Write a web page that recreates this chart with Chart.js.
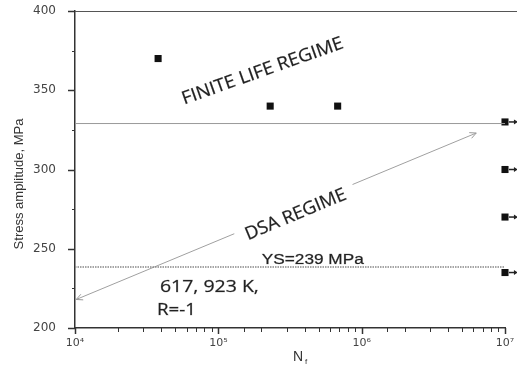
<!DOCTYPE html>
<html>
<head>
<meta charset="utf-8">
<script src="https://cdn.jsdelivr.net/npm/chart.js@4.4.0/dist/chart.umd.min.js"></script>
<style>
  html, body { margin: 0; padding: 0; background: #fff; }
  #wrap { width: 517px; height: 383px; }
</style>
</head>
<body>
<div id="wrap"><canvas id="fatigueChart"></canvas></div>
<script>
// data
const cycles = [3.8e4, 2.3e5, 6.8e5, 1e7, 1e7, 1e7, 1e7];
const stress = [370, 340, 340, 330, 300, 270, 235];
const runoutCycles = [1.1e7, 1.1e7, 1.1e7, 1.1e7];
const runoutStress = [330, 300, 270, 235];
const fatigueLimit = 329;
const yieldStrength = 238.5;
const arrowCycles = [1.02e4, 6.3e6];
const arrowStress = [218, 323];
const xRange = [1e4, 1e7];
const xTickValues = [1e4, 1e5, 1e6, 1e7];
const xTickLabels = ['10⁴', '10⁵', '10⁶', '10⁷'];
const yRange = [200, 400];
const yStep = 25;

// text notes, anchored in data coordinates
const notes = [
    { text: 'FINITE LIFE REGIME', x: 2.04e5, y: 362, angle: -19.5, width: 170, size: 18, align: 'center', bg: false },
    { text: 'DSA REGIME', x: 3.47e5, y: 271.5, angle: -22.6, width: 108, size: 18, align: 'center', bg: true },
    { text: 'YS=239 MPa', x: 2.01e5, y: 243, angle: 0, width: 102, size: 14, align: 'left', bg: false, font: 'Liberation Sans' },
    { text: '617, 923 K,', x: 3.91e4, y: 226, angle: 0, width: 99, size: 17, align: 'left', bg: false },
    { text: 'R=-1', x: 3.73e4, y: 211.5, angle: 0, width: 39, size: 17, align: 'left', bg: false }
];

function drawFitted(ctx, n, px, py) {
    ctx.save();
    ctx.translate(px, py);
    ctx.rotate(n.angle * Math.PI / 180);
    ctx.font = n.size + 'px "' + (n.font || 'Open Sans') + '"';
    const w = ctx.measureText(n.text).width;
    const sx = n.width / w;
    const left = n.align === 'center' ? -n.width / 2 : 0;
    if (n.bg) {
        ctx.fillStyle = '#fff';
        ctx.fillRect(left - 10, -n.size * 0.7, n.width + 20, n.size * 1.25);
    }
    ctx.scale(sx, 1);
    ctx.fillStyle = '#222';
    ctx.strokeStyle = 'rgba(34,34,34,0.45)';
    ctx.lineWidth = 0.5;
    ctx.textBaseline = 'middle';
    ctx.textAlign = 'left';
    ctx.fillText(n.text, left / sx, 0);
    ctx.strokeText(n.text, left / sx, 0);
    ctx.restore();
}

const extras = {
    id: 'extras',
    afterDatasetsDraw(chart) {
        const ctx = chart.ctx;
        const xs = chart.scales.x, ys = chart.scales.y;
        const area = chart.chartArea;

        // top frame line
        ctx.save();
        ctx.strokeStyle = '#555';
        ctx.lineWidth = 1;
        ctx.beginPath();
        ctx.moveTo(area.left, area.top + 0.5);
        ctx.lineTo(chart.width, area.top + 0.5);
        ctx.stroke();

        // tick marks
        ctx.strokeStyle = '#333';
        xs.ticks.forEach(t => {
            const e = Math.log10(t.value);
            const major = Math.abs(e - Math.round(e)) < 1e-9;
            const px = Math.round(xs.getPixelForValue(t.value)) + 0.5;
            ctx.lineWidth = major ? 1.5 : 1;
            ctx.beginPath();
            ctx.moveTo(px, area.bottom);
            ctx.lineTo(px, area.bottom + (major ? 6 : 4));
            ctx.stroke();
        });
        ys.ticks.forEach(t => {
            const major = t.value % 50 === 0;
            const py = Math.round(ys.getPixelForValue(t.value)) + 0.5;
            ctx.lineWidth = major ? 1.5 : 1;
            ctx.beginPath();
            ctx.moveTo(area.left, py);
            ctx.lineTo(area.left - (major ? 7 : 3), py);
            ctx.stroke();
        });

        // x tick labels
        ctx.fillStyle = '#444';
        ctx.font = '11px "DejaVu Sans"';
        ctx.textAlign = 'center';
        ctx.textBaseline = 'middle';
        xTickValues.forEach((v, i) => {
            ctx.fillText(xTickLabels[i], xs.getPixelForValue(v), area.bottom + 15);
        });

        // run-out arrows beyond 10^7
        ctx.strokeStyle = '#222';
        ctx.fillStyle = '#222';
        ctx.lineWidth = 1.5;
        runoutCycles.forEach((c, i) => {
            const px = xs.getPixelForValue(c);
            const py = ys.getPixelForValue(runoutStress[i]);
            ctx.beginPath();
            ctx.moveTo(px - 2, py);
            ctx.lineTo(px + 4, py);
            ctx.stroke();
            ctx.beginPath();
            ctx.moveTo(px + 7, py);
            ctx.lineTo(px + 3, py - 2.5);
            ctx.lineTo(px + 3, py + 2.5);
            ctx.closePath();
            ctx.fill();
        });

        // arrowheads on the DSA arrow
        const p0 = { x: xs.getPixelForValue(arrowCycles[0]), y: ys.getPixelForValue(arrowStress[0]) };
        const p1 = { x: xs.getPixelForValue(arrowCycles[1]), y: ys.getPixelForValue(arrowStress[1]) };
        const ang = Math.atan2(p1.y - p0.y, p1.x - p0.x);
        ctx.strokeStyle = '#999';
        ctx.lineWidth = 1;
        [[p1, ang], [p0, ang + Math.PI]].forEach(([p, a]) => {
            ctx.beginPath();
            ctx.moveTo(p.x - 7 * Math.cos(a - 0.45), p.y - 7 * Math.sin(a - 0.45));
            ctx.lineTo(p.x, p.y);
            ctx.lineTo(p.x - 7 * Math.cos(a + 0.45), p.y - 7 * Math.sin(a + 0.45));
            ctx.stroke();
        });

        // notes
        notes.forEach(n => drawFitted(ctx, n, xs.getPixelForValue(n.x), ys.getPixelForValue(n.y)));

        // axis titles
        ctx.fillStyle = '#333';
        ctx.font = '13px "Liberation Sans"';
        ctx.textAlign = 'center';
        ctx.textBaseline = 'middle';
        ctx.save();
        ctx.translate(19, 184);
        ctx.rotate(-Math.PI / 2);
        ctx.fillText('Stress amplitude, MPa', 0, 0);
        ctx.restore();
        const cx = 300;
        ctx.font = '14px "Liberation Sans"';
        ctx.fillText('N', cx - 2, 357);
        ctx.font = '8px "Liberation Sans"';
        ctx.fillText('f', cx + 6, 362);
        ctx.restore();
    }
};

const data = {
    datasets: [
        {
            label: 'Limit',
            type: 'line',
            data: [{ x: xRange[0], y: fatigueLimit }, { x: xRange[1], y: fatigueLimit }],
            borderColor: '#999',
            borderWidth: 1,
            pointRadius: 0
        },
        {
            label: 'YS',
            type: 'line',
            data: [{ x: xRange[0], y: yieldStrength }, { x: xRange[1], y: yieldStrength }],
            borderColor: '#888',
            borderWidth: 1.5,
            borderDash: [1.5, 1],
            pointRadius: 0
        },
        {
            label: 'Arrow',
            type: 'line',
            data: arrowCycles.map((c, i) => ({ x: c, y: arrowStress[i] })),
            borderColor: '#a0a0a0',
            borderWidth: 1,
            pointRadius: 0
        },
        {
            label: 'Tests',
            data: cycles.map((c, i) => ({ x: c, y: stress[i] })),
            pointStyle: 'rect',
            pointRadius: 5,
            backgroundColor: '#111',
            borderColor: '#111',
            borderWidth: 0,
            clip: false
        }
    ]
};

const config = {
    type: 'scatter',
    data: data,
    plugins: [extras],
    options: {
        responsive: true,
        maintainAspectRatio: false,
        animation: false,
        layout: { padding: { top: 11, right: 12, left: 0, bottom: 0 } },
        plugins: {
            legend: { display: false },
            tooltip: { enabled: false }
        },
        scales: {
            x: {
                type: 'logarithmic',
                min: xRange[0],
                max: xRange[1],
                grid: { display: false },
                border: { display: true, color: '#333', width: 1.5 },
                afterFit: s => {
                    s.height = 55;
                    s.paddingLeft = 0;
                    s.paddingRight = 0;
                },
                ticks: {
                    autoSkip: false,
                    maxRotation: 0,
                    font: { family: 'DejaVu Sans', size: 11 },
                    color: 'rgba(0,0,0,0)',
                    callback: function(value) {
                        return '';
                    }
                }
            },
            y: {
                min: yRange[0],
                max: yRange[1],
                grid: { display: false },
                border: { display: true, color: '#333', width: 1.5 },
                afterFit: s => {
                    s.width = 75;
                    s.paddingTop = 0;
                    s.paddingBottom = 0;
                },
                ticks: {
                    stepSize: yStep,
                    padding: 11,
                    color: '#444',
                    font: { family: 'DejaVu Sans', size: 12 },
                    callback: function(value) {
                        return value % 50 === 0 ? value : '';
                    }
                }
            }
        }
    }
};

const ctx = document.getElementById('fatigueChart').getContext('2d');
new Chart(ctx, config);
</script>
</body>
</html>
